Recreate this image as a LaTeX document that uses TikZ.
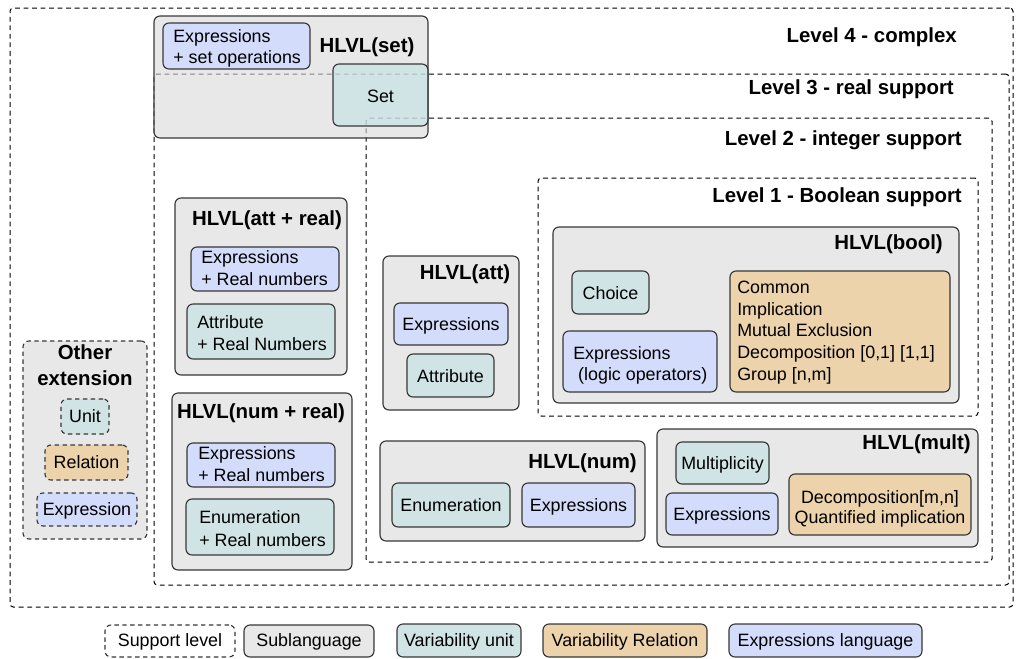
\documentclass[tikz,border=0pt]{standalone}
\usepackage{fontspec}
\setmainfont{Liberation Sans}

\definecolor{subfill}{RGB}{232,232,232}
\definecolor{subfilltr}{RGB}{217,217,217}
\definecolor{unitfill}{RGB}{208,227,229}
\definecolor{unitfilltr}{RGB}{192,224,227}
\definecolor{relfill}{RGB}{237,211,171}
\definecolor{exprfill}{RGB}{212,220,251}
\definecolor{edge}{RGB}{55,55,55}

\tikzset{
  base/.style={inner sep=0pt, outer sep=0pt, anchor=north west},
  levelbox/.style={base, draw=black, line width=0.75pt, dash pattern=on 3.6pt off 2.8pt, rounded corners=2.5pt},
  solidbox/.style={base, draw=edge, line width=0.85pt, rounded corners=4.5pt},
  dashbox/.style={base, draw=edge, line width=0.85pt, dash pattern=on 3.3pt off 2.6pt, rounded corners=4.5pt},
  sublang/.style={solidbox, fill=subfill},
  unitbox/.style={solidbox, fill=unitfill},
  relbox/.style={solidbox, fill=relfill},
  exprbox/.style={solidbox, fill=exprfill},
  plain/.style={font=\fontsize{13.4}{16.3}\selectfont, inner sep=0pt},
  title/.style={font=\bfseries\fontsize{15.3}{18.5}\selectfont, inner sep=0pt},
}

% \panel{style}{name}{x1}{y1}{x2}{y2}: a box given by its corners in pixels
\newcommand\panel[6]{%
  \node[#1, minimum width={(#5-#3)*0.75pt}, minimum height={(#6-#4)*0.75pt}] (#2) at (#3,#4) {};}

\begin{document}
\begin{tikzpicture}[x=0.75pt, y=-0.75pt]
\useasboundingbox (0,0) rectangle (1017,658);

% support levels
\panel{levelbox}{lvl4}{10}{8}{1013}{607}
\panel{levelbox}{lvl3}{154}{74}{1009}{585}
\panel{levelbox}{lvl2}{366}{118}{992}{562}
\panel{levelbox}{lvl1}{538}{178}{978}{416}

\node[title, anchor=base east] (lvl4-t) at (957,42.3) {Level 4 - complex};
\node[title, anchor=base east] (lvl3-t) at (954,94.3) {Level 3 - real support};
\node[title, anchor=base east] (lvl2-t) at (962,145.3) {Level 2 - integer support};
\node[title, anchor=base east] (lvl1-t) at (962,202.3) {Level 1 - Boolean support};

% HLVL(set), lying across levels 3 and 2
\panel{solidbox, fill=subfilltr, fill opacity=0.6}{set}{154}{16}{428}{138}
\panel{exprbox}{set-e}{163}{23}{310}{69}
\node[plain, anchor=base west] (set-e1) at (173,42.4) {Expressions};
\node[plain, anchor=base west] (set-e2) at (173,63.4) {+ set operations};
\node[title, anchor=base] (set-t) at (367,52.3) {HLVL(set)};
\panel{solidbox, fill=unitfilltr, fill opacity=0.6}{set-u}{333}{64}{428}{126}
\node[plain, anchor=base] (set-u1) at (380.5,102.4) {Set};

% HLVL(att + real)
\panel{sublang}{ar}{175}{198}{347}{375}
\node[title, anchor=base] (ar-t) at (267,225.3) {HLVL(att + real)};
\panel{exprbox}{ar-e}{191}{247}{339}{291}
\node[plain, anchor=base west] (ar-e1) at (201,263.4) {Expressions};
\node[plain, anchor=base west] (ar-e2) at (201,285.4) {+ Real numbers};
\panel{unitbox}{ar-u}{187}{304}{335}{359}
\node[plain, anchor=base west] (ar-u1) at (197,328.4) {Attribute};
\node[plain, anchor=base west] (ar-u2) at (197,350.4) {+ Real Numbers};

% HLVL(num + real)
\panel{sublang}{nr}{172}{393}{352}{570}
\node[title, anchor=base] (nr-t) at (261,418.3) {HLVL(num + real)};
\panel{exprbox}{nr-e}{187}{443}{335}{487}
\node[plain, anchor=base west] (nr-e1) at (198,459.4) {Expressions};
\node[plain, anchor=base west] (nr-e2) at (198,481.4) {+ Real numbers};
\panel{unitbox}{nr-u}{186}{499}{334}{555}
\node[plain, anchor=base west] (nr-u1) at (199,523.4) {Enumeration};
\node[plain, anchor=base west] (nr-u2) at (199,546.4) {+ Real numbers};

% other extension
\panel{dashbox, fill=subfill}{oth}{23}{341}{147}{539}
\node[title, anchor=base] (oth-t1) at (85,359.3) {Other};
\node[title, anchor=base] (oth-t2) at (85,385.3) {extension};
\panel{dashbox, fill=unitfill}{oth-u}{61}{399}{109}{434}
\node[plain, anchor=base] (oth-u1) at (85,422.4) {Unit};
\panel{dashbox, fill=relfill}{oth-r}{45}{445}{128}{480}
\node[plain, anchor=base] (oth-r1) at (86.5,468.9) {Relation};
\panel{dashbox, fill=exprfill}{oth-e}{37}{493}{137}{526}
\node[plain, anchor=base] (oth-e1) at (87,515.9) {Expression};

% HLVL(att)
\panel{sublang}{att}{383}{256}{519}{410}
\node[title, anchor=base] (att-t) at (465,279.3) {HLVL(att)};
\panel{exprbox}{att-e}{394}{303}{508}{345}
\node[plain, anchor=base] (att-e1) at (451,330.4) {Expressions};
\panel{unitbox}{att-u}{407}{354}{494}{397}
\node[plain, anchor=base] (att-u1) at (450.5,382.4) {Attribute};

% HLVL(bool)
\panel{sublang}{bool}{553}{227}{959}{403}
\node[title, anchor=base east] (bool-t) at (943,249.3) {HLVL(bool)};
\panel{unitbox}{bool-u}{572}{271}{649}{314}
\node[plain, anchor=base] (bool-u1) at (610.5,299.4) {Choice};
\panel{exprbox}{bool-e}{563}{331}{717}{392}
\node[plain, anchor=base west] (bool-e1) at (573,359.4) {Expressions};
\node[plain, anchor=base west] (bool-e2) at (573,380.4) {\ (logic operators)};
\panel{relbox}{bool-r}{730}{271}{950}{392}
\node[plain, anchor=base west] (bool-r1) at (737,293.4) {Common};
\node[plain, anchor=base west] (bool-r2) at (737,315.1) {Implication};
\node[plain, anchor=base west] (bool-r3) at (737,336.8) {Mutual Exclusion};
\node[plain, anchor=base west] (bool-r4) at (737,358.5) {Decomposition [0,1] [1,1]};
\node[plain, anchor=base west] (bool-r5) at (737,380.2) {Group [n,m]};

% HLVL(num)
\panel{sublang}{num}{380}{441}{645}{541}
\node[title, anchor=base east] (num-t) at (637,468.3) {HLVL(num)};
\panel{unitbox}{num-u}{392}{483}{510}{527}
\node[plain, anchor=base] (num-u1) at (451,511.4) {Enumeration};
\panel{exprbox}{num-e}{522}{483}{635}{527}
\node[plain, anchor=base] (num-e1) at (578.5,511.4) {Expressions};

% HLVL(mult)
\panel{sublang}{mult}{657}{429}{978}{547}
\node[title, anchor=base east] (mult-t) at (971,449.3) {HLVL(mult)};
\panel{unitbox}{mult-u}{676}{442}{769}{484}
\node[plain, anchor=base] (mult-u1) at (722.5,469.4) {Multiplicity};
\panel{exprbox}{mult-e}{666}{493}{778}{535}
\node[plain, anchor=base] (mult-e1) at (722,520.4) {Expressions};
\panel{relbox}{mult-r}{789}{474}{971}{535}
\node[plain, anchor=base] (mult-r1) at (880,503.4) {Decomposition[m,n]};
\node[plain, anchor=base] (mult-r2) at (880,523.4) {Quantified implication};

% legend
\panel{dashbox, fill=white}{lg1}{105}{625}{235}{657}
\node[plain, anchor=base] (lg1-t) at (170,646.9) {Support level};
\panel{sublang}{lg2}{244}{625}{374}{657}
\node[plain, anchor=base] (lg2-t) at (309,646.9) {Sublanguage};
\panel{unitbox}{lg3}{397}{624}{521}{657}
\node[plain, anchor=base] (lg3-t) at (459,646.9) {Variability unit};
\panel{relbox}{lg4}{543}{624}{707}{657}
\node[plain, anchor=base] (lg4-t) at (625,646.9) {Variability Relation};
\panel{exprbox}{lg5}{729}{624}{922}{657}
\node[plain, anchor=base] (lg5-t) at (825.5,646.9) {Expressions language};
\end{tikzpicture}
\end{document}
